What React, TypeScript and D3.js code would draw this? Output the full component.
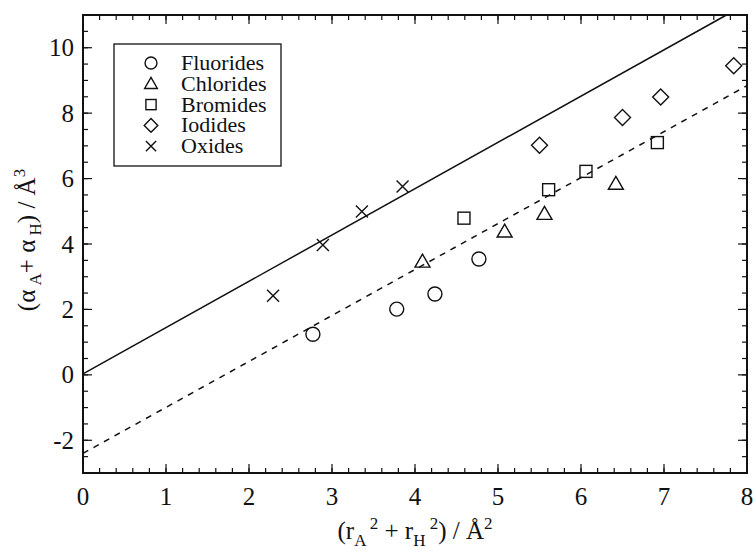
import React from 'react';
import * as d3 from 'd3';

// ---- data ----
const fluoridesX = [2.77, 3.78, 4.24, 4.77];
const fluoridesY = [1.24, 2.01, 2.47, 3.54];
const chloridesX = [4.09, 5.08, 5.56, 6.42];
const chloridesY = [3.46, 4.38, 4.92, 5.84];
const bromidesX = [4.59, 5.61, 6.06, 6.92];
const bromidesY = [4.79, 5.66, 6.22, 7.1];
const iodidesX = [5.5, 6.5, 6.96, 7.84];
const iodidesY = [7.02, 7.87, 8.49, 9.45];
const oxidesX = [2.29, 2.89, 3.36, 3.85];
const oxidesY = [2.42, 3.97, 4.99, 5.76];

// fitted lines: [intercept, slope]
const oxideFit = [0.03, 1.415];
const halideFit = [-2.4, 1.405];

const xDomain = [0, 8];
const yDomain = [-3, 11];
const xMajorTicks = [0, 1, 2, 3, 4, 5, 6, 7, 8];
const yMajorTicks = [-2, 0, 2, 4, 6, 8, 10];
const xMinorStep = 0.2;
const yMinorStep = 0.5;

const seriesNames = ['Fluorides', 'Chlorides', 'Bromides', 'Iodides', 'Oxides'];
const seriesX = [fluoridesX, chloridesX, bromidesX, iodidesX, oxidesX];
const seriesY = [fluoridesY, chloridesY, bromidesY, iodidesY, oxidesY];
const seriesShapes = ['circle', 'triangle', 'square', 'diamond', 'cross'];

const W = 754;
const H = 552;
const M = { left: 83, right: 747, top: 15, bottom: 473 };
const FONT = '"Liberation Serif", "Times New Roman", serif';

function Marker({ shape, cx, cy, s = 1 }: { shape: string; cx: number; cy: number; s?: number }) {
  const common = { fill: 'none', stroke: '#111', strokeWidth: 1.4 };
  const t = `translate(${cx},${cy}) scale(${s})`;
  switch (shape) {
    case 'circle':
      return <circle cx={cx} cy={cy} r={7 * s} {...common} />;
    case 'triangle':
      return <path transform={t} d="M0,-7.5 L7.5,5.5 L-7.5,5.5 Z" {...common} strokeWidth={1.4 / s} />;
    case 'square':
      return <rect transform={t} x={-6} y={-6} width={12} height={12} {...common} strokeWidth={1.4 / s} />;
    case 'diamond':
      return <path transform={t} d="M0,-8 L8,0 L0,8 L-8,0 Z" {...common} strokeWidth={1.4 / s} />;
    default:
      return <path transform={t} d="M-6,-6 L6,6 M-6,6 L6,-6" {...common} strokeWidth={1.4 / s} />;
  }
}

export default function App() {
  const x = d3.scaleLinear().domain(xDomain).range([M.left, M.right]);
  const y = d3.scaleLinear().domain(yDomain).range([M.bottom, M.top]);

  const xMinor = d3.range(xDomain[0], xDomain[1] + 1e-9, xMinorStep);
  const yMinor = d3.range(yDomain[0], yDomain[1] + 1e-9, yMinorStep);

  const line = d3
    .line<number[]>()
    .x((d) => x(d[0]))
    .y((d) => y(d[1]));

  const oxEnd = Math.min(xDomain[1], (yDomain[1] - oxideFit[0]) / oxideFit[1]);
  const oxLine = [
    [0, oxideFit[0]],
    [oxEnd, oxideFit[0] + oxideFit[1] * oxEnd],
  ];
  const haEnd = Math.min(xDomain[1], (yDomain[1] - halideFit[0]) / halideFit[1]);
  const haLine = [
    [0, halideFit[0]],
    [haEnd, halideFit[0] + halideFit[1] * haEnd],
  ];

  const majL = 9;
  const minL = 5;

  return (
    <svg
      width={W}
      height={H}
      style={{ position: 'absolute', left: 0, top: 0, background: '#fff' }}
      fontFamily={FONT}
    >
      <rect x={0} y={0} width={W} height={H} fill="#fff" />

      {/* minor and major ticks, inward on all four sides */}
      <g stroke="#111" strokeWidth={1.2}>
        {xMinor.map((v, i) => (
          <g key={'xm' + i}>
            <line x1={x(v)} x2={x(v)} y1={M.bottom} y2={M.bottom - minL} />
            <line x1={x(v)} x2={x(v)} y1={M.top} y2={M.top + minL} />
          </g>
        ))}
        {yMinor.map((v, i) => (
          <g key={'ym' + i}>
            <line x1={M.left} x2={M.left + minL} y1={y(v)} y2={y(v)} />
            <line x1={M.right} x2={M.right - minL} y1={y(v)} y2={y(v)} />
          </g>
        ))}
        {xMajorTicks.map((v) => (
          <g key={'xM' + v}>
            <line x1={x(v)} x2={x(v)} y1={M.bottom} y2={M.bottom - majL} />
            <line x1={x(v)} x2={x(v)} y1={M.top} y2={M.top + majL} />
          </g>
        ))}
        {yMajorTicks.map((v) => (
          <g key={'yM' + v}>
            <line x1={M.left} x2={M.left + majL} y1={y(v)} y2={y(v)} />
            <line x1={M.right} x2={M.right - majL} y1={y(v)} y2={y(v)} />
          </g>
        ))}
      </g>

      {/* tick labels */}
      <g fontSize={25} fill="#111">
        {xMajorTicks.map((v) => (
          <text key={'xl' + v} x={x(v)} y={505} textAnchor="middle">
            {v}
          </text>
        ))}
        {yMajorTicks.map((v) => (
          <text key={'yl' + v} x={74} y={y(v) + 8.5} textAnchor="end">
            {v}
          </text>
        ))}
      </g>

      {/* fit lines */}
      <path d={line(oxLine) || ''} fill="none" stroke="#111" strokeWidth={1.5} />
      <path d={line(haLine) || ''} fill="none" stroke="#111" strokeWidth={1.5} strokeDasharray="6,6" />

      {/* data */}
      {seriesX.map((xs, si) =>
        xs.map((xv, i) => (
          <Marker key={si + '-' + i} shape={seriesShapes[si]} cx={x(xv)} cy={y(seriesY[si][i])} />
        ))
      )}

      {/* legend */}
      <rect x={114} y={44} width={167} height={122} fill="#fff" stroke="#111" strokeWidth={1.3} />
      {seriesNames.map((name, i) => {
        const ry = 63 + i * 20.8;
        return (
          <g key={name}>
            <Marker shape={seriesShapes[i]} cx={151} cy={ry} s={0.85} />
            <text x={181} y={ry + 7} fontSize={22} fill="#111">
              {name}
            </text>
          </g>
        );
      })}

      {/* frame */}
      <rect
        x={M.left}
        y={M.top}
        width={M.right - M.left}
        height={M.bottom - M.top}
        fill="none"
        stroke="#111"
        strokeWidth={2}
      />

      {/* y title */}
      <text transform={`translate(35,240) rotate(-90)`} textAnchor="middle" fontSize={25} fill="#111">
        <tspan>(α</tspan>
        <tspan fontSize={17} dy={6}> A</tspan>
        <tspan dy={-6}>+ α</tspan>
        <tspan fontSize={17} dy={6}> H</tspan>
        <tspan dy={-6}>)  / Å</tspan>
        <tspan fontSize={17} dy={-10}>3</tspan>
      </text>

      {/* x title */}
      <text x={415} y={539} textAnchor="middle" fontSize={25} fill="#111">
        <tspan>(r</tspan>
        <tspan fontSize={17} dy={7}>A</tspan>
        <tspan fontSize={17} dy={-17}> 2</tspan>
        <tspan dy={10}> + r</tspan>
        <tspan fontSize={17} dy={7}>H</tspan>
        <tspan fontSize={17} dy={-17}> 2</tspan>
        <tspan dy={10}>)   /   Å</tspan>
        <tspan fontSize={17} dy={-10}>2</tspan>
      </text>
    </svg>
  );
}
